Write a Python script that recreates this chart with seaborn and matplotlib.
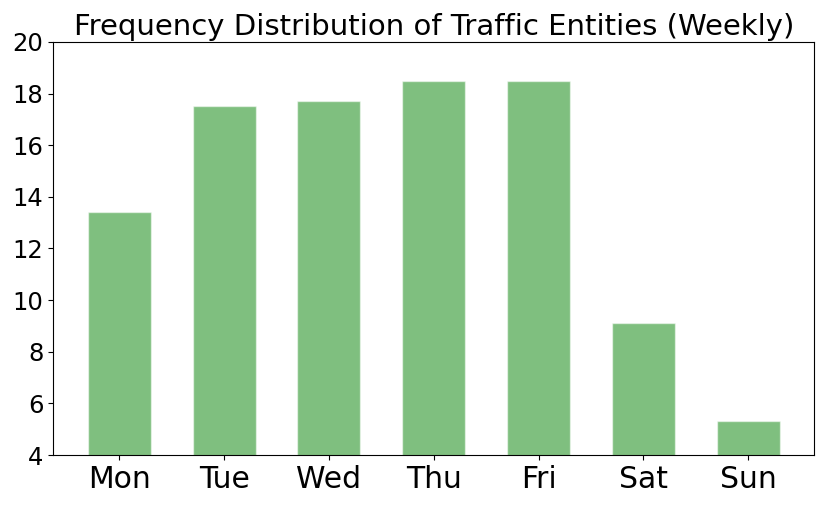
import seaborn as sns
import pandas as pd
import matplotlib.pyplot as plt

days = ['Mon', 'Tue', 'Wed', 'Thu', 'Fri', 'Sat', 'Sun']
counts = [13.4, 17.5, 17.7, 18.5, 18.5, 9.1, 5.3]

df = pd.DataFrame({'day': days, 'count': counts})

sns.set_style("ticks", {'axes.edgecolor': 'black', 'text.color': 'black',
                        'xtick.color': 'black', 'ytick.color': 'black'})
plt.rcParams['font.family'] = ['DejaVu Sans']

fig = plt.figure(figsize=(8.31, 5.05), dpi=100)
ax = fig.add_axes([0.064, 0.099, 0.916, 0.818])

sns.barplot(data=df, x='day', y='count', color='green', alpha=0.5,
            width=0.6, edgecolor='white', linewidth=1, saturation=1, ax=ax)

ax.set_xlim(-0.63, 6.63)
ax.set_ylim(4, 20)
ax.set_xlabel('')
ax.set_ylabel('')
ax.set_title('Frequency Distribution of Traffic Entities (Weekly)', fontsize=21,
             color='black', pad=5)
ax.tick_params(axis='x', labelsize=21.5, labelcolor='black')
ax.tick_params(axis='y', labelsize=17.5, labelcolor='black')
for side in ['top', 'right']:
    ax.spines[side].set_visible(True)

plt.savefig('out.png', dpi=100)
